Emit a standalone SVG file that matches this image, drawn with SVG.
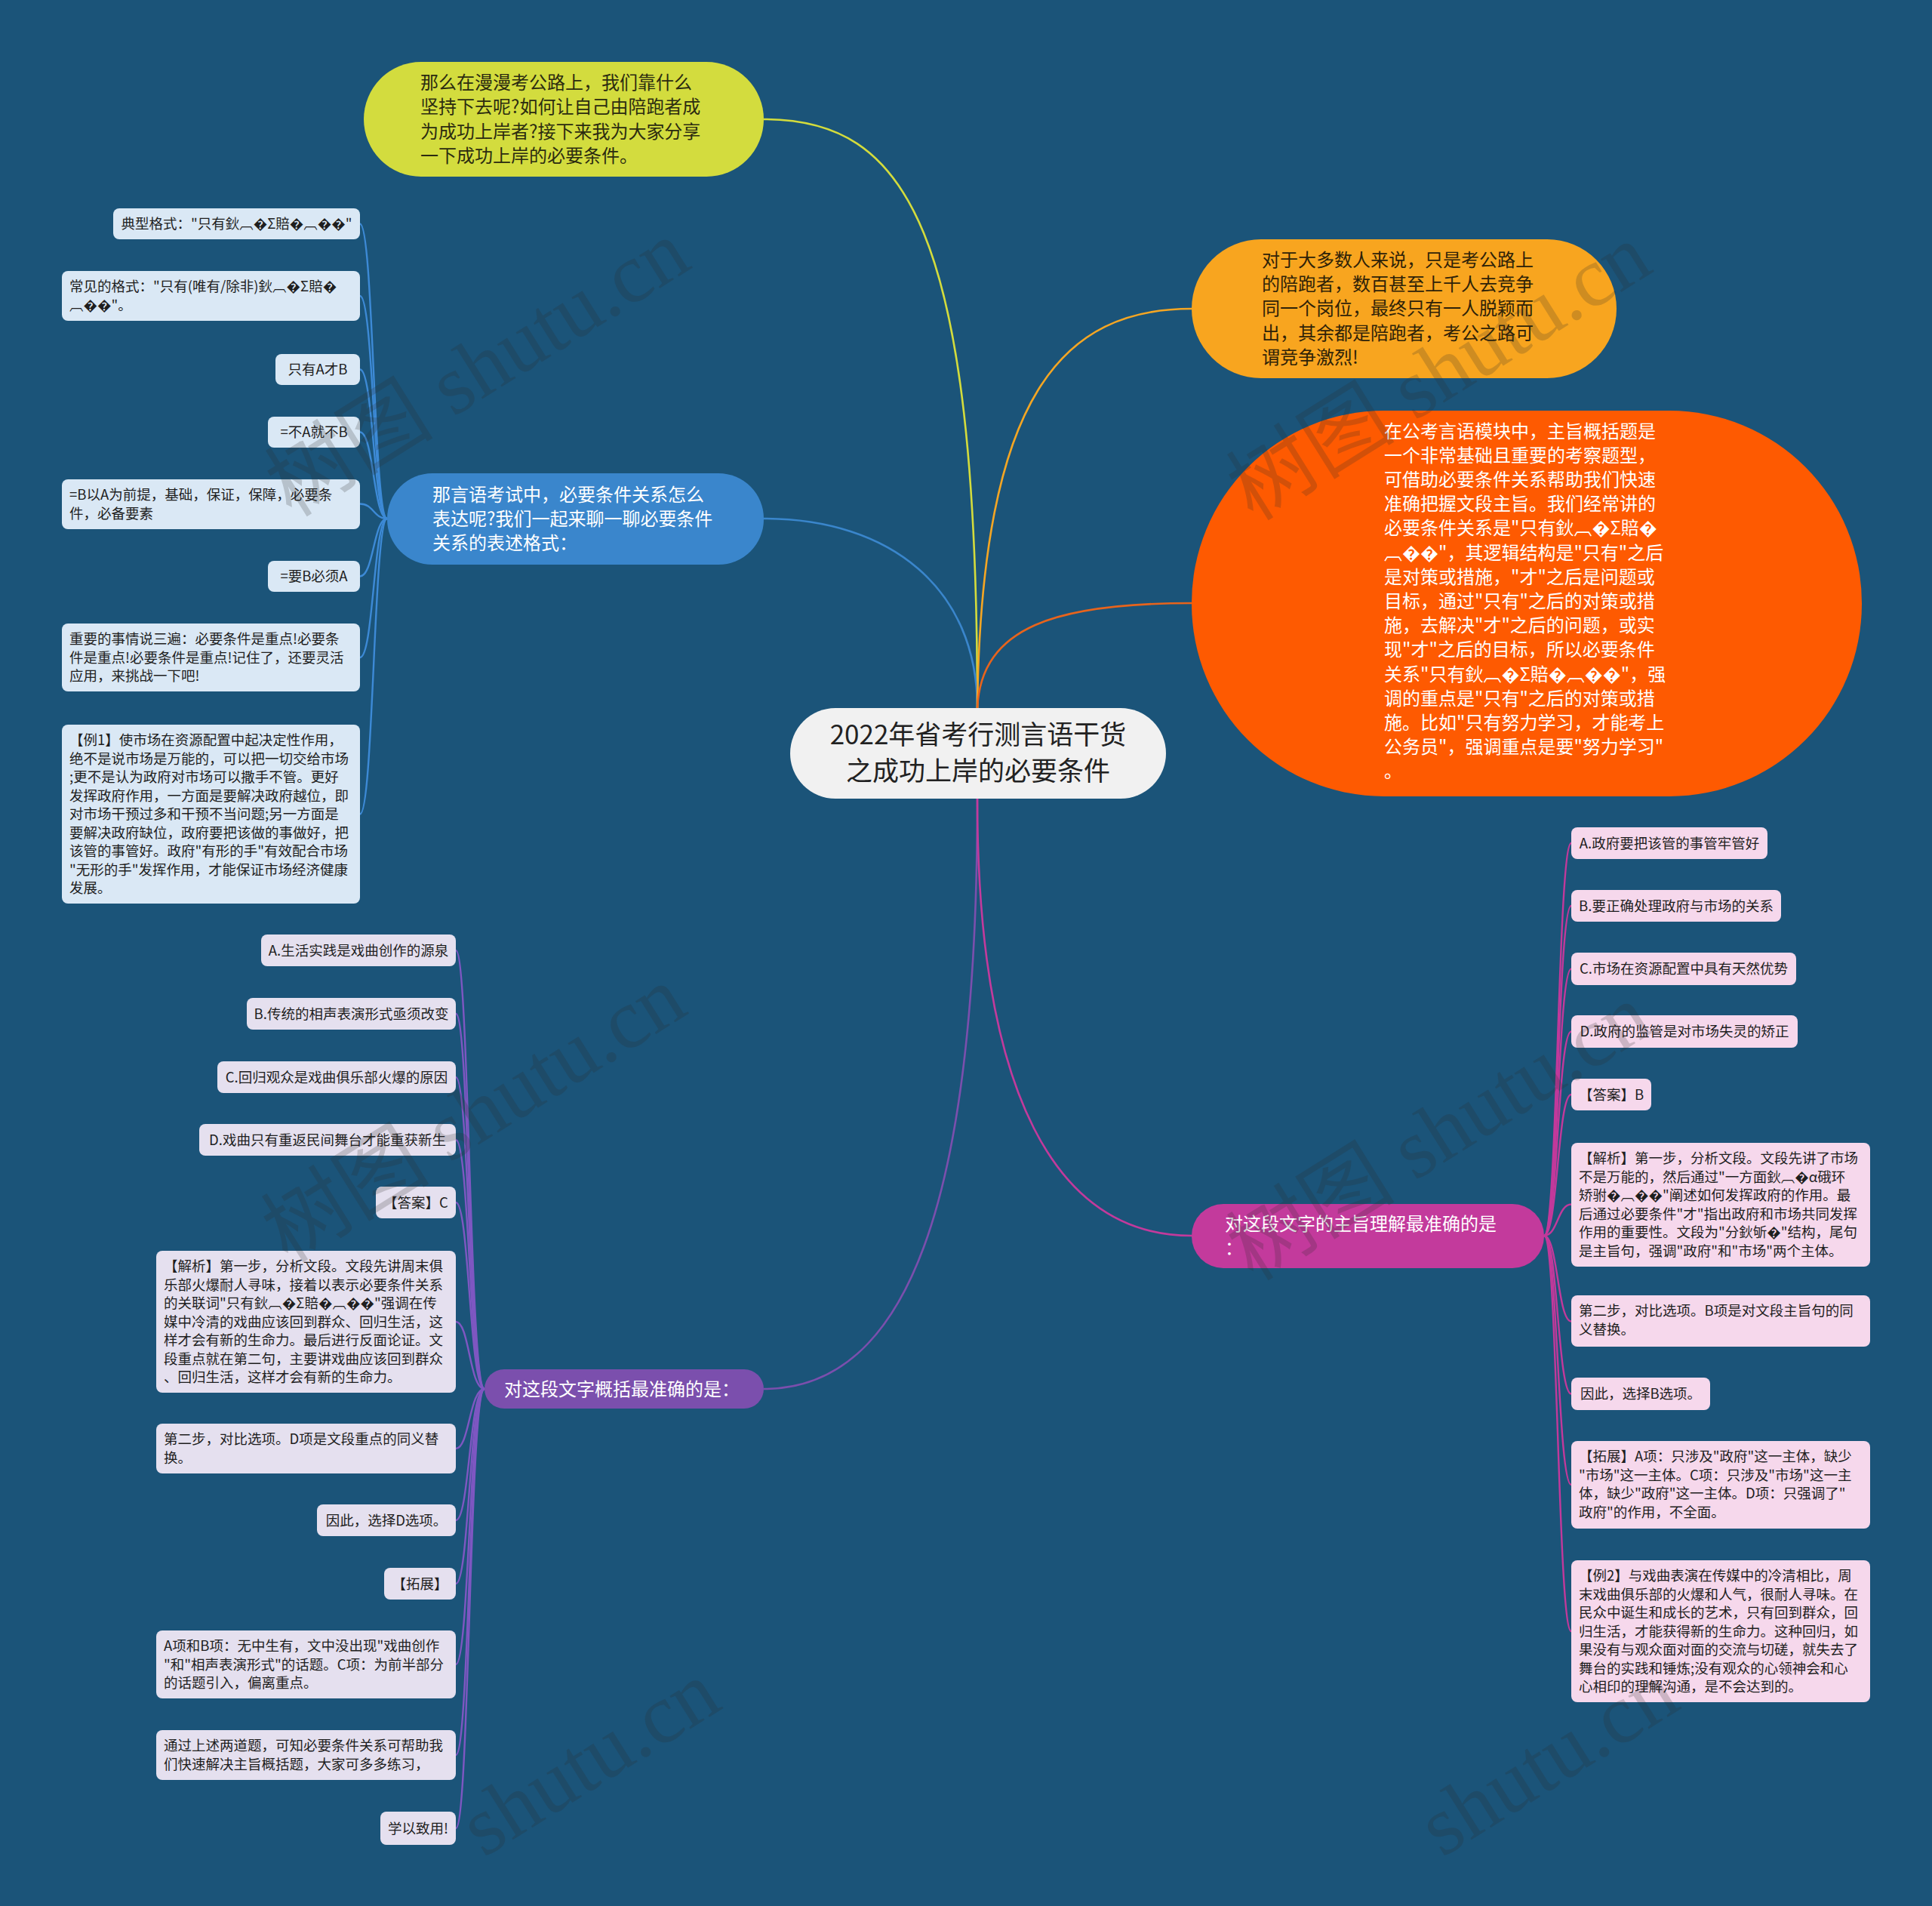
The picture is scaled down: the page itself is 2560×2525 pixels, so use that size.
<svg xmlns="http://www.w3.org/2000/svg" width="2560" height="2525" viewBox="0 0 2560 2525">
<style>
text{font-family:"Noto Sans CJK SC","Noto Sans",sans-serif}
.l1{font-size:24px}
.s{font-size:18.5px;fill:#1e1e1e}
.c{stroke-width:2.6;fill:none}
.sc{stroke-width:2.4;fill:none}
.bb{fill:#dae8f5}
.pb{fill:#e5e0ef}
.mb{fill:#f6d8ec}
.wm{font-size:112px;fill:#2a2a2a;opacity:0.2;font-family:"Liberation Serif","Noto Sans CJK SC",serif}
</style>
<rect x="0" y="0" width="2560" height="2525" fill="#1b5479"/>

<g id="connectors">
<path class="c" stroke="#d4dc3c" d="M1012 158 C1200 158 1295 300 1295 938"/>
<path class="c" stroke="#3a86cc" d="M1012 687 C1180 687 1295 780 1295 938"/>
<path class="c" stroke="#f5a623" d="M1579 409 C1410 409 1300 520 1295 938"/>
<path class="c" stroke="#e8641c" d="M1579 799 C1400 799 1300 830 1295 938"/>
<path class="c" stroke="#7b4fad" d="M1295 1058 C1295 1600 1200 1840 1012 1840"/>
<path class="c" stroke="#c33a9c" d="M1295 1058 C1295 1450 1400 1637 1579 1637"/>
<g stroke="#3d8ad6">
<path class="sc" d="M513 687 C495 687 495 296.5 477 296.5"/>
<path class="sc" d="M513 687 C495 687 495 392 477 392"/>
<path class="sc" d="M513 687 C495 687 495 489.5 477 489.5"/>
<path class="sc" d="M513 687 C495 687 495 572.5 477 572.5"/>
<path class="sc" d="M513 687 C495 687 495 667.5 477 667.5"/>
<path class="sc" d="M513 687 C495 687 495 763.5 477 763.5"/>
<path class="sc" d="M513 687 C495 687 495 871 477 871"/>
<path class="sc" d="M513 687 C495 687 495 1078.5 477 1078.5"/>
</g>
<g stroke="#7e57c2">
<path class="sc" d="M642 1840 C622 1840 622 1259 604 1259"/>
<path class="sc" d="M642 1840 C622 1840 622 1343 604 1343"/>
<path class="sc" d="M642 1840 C622 1840 622 1427 604 1427"/>
<path class="sc" d="M642 1840 C622 1840 622 1510 604 1510"/>
<path class="sc" d="M642 1840 C622 1840 622 1593 604 1593"/>
<path class="sc" d="M642 1840 C622 1840 622 1751 604 1751"/>
<path class="sc" d="M642 1840 C622 1840 622 1919 604 1919"/>
<path class="sc" d="M642 1840 C622 1840 622 2014 604 2014"/>
<path class="sc" d="M642 1840 C622 1840 622 2098 604 2098"/>
<path class="sc" d="M642 1840 C622 1840 622 2205 604 2205"/>
<path class="sc" d="M642 1840 C622 1840 622 2325 604 2325"/>
<path class="sc" d="M642 1840 C622 1840 622 2422 604 2422"/>
</g>
<g stroke="#c2399b">
<path class="sc" d="M2046 1637 C2064 1637 2064 1117 2082 1117"/>
<path class="sc" d="M2046 1637 C2064 1637 2064 1200 2082 1200"/>
<path class="sc" d="M2046 1637 C2064 1637 2064 1283.5 2082 1283.5"/>
<path class="sc" d="M2046 1637 C2064 1637 2064 1366.5 2082 1366.5"/>
<path class="sc" d="M2046 1637 C2064 1637 2064 1450 2082 1450"/>
<path class="sc" d="M2046 1637 C2064 1637 2064 1595.5 2082 1595.5"/>
<path class="sc" d="M2046 1637 C2064 1637 2064 1750.5 2082 1750.5"/>
<path class="sc" d="M2046 1637 C2064 1637 2064 1846.5 2082 1846.5"/>
<path class="sc" d="M2046 1637 C2064 1637 2064 1967 2082 1967"/>
<path class="sc" d="M2046 1637 C2064 1637 2064 2161 2082 2161"/>
</g>
</g>

<g id="center">
<rect x="1047" y="938" width="498" height="120" rx="60" fill="#f1f1f1"/>
<text font-size="35" fill="#222" text-anchor="middle"><tspan x="1296" y="986">2022年省考行测言语干货</tspan><tspan x="1296" y="1034">之成功上岸的必要条件</tspan></text>
</g>

<g id="n-yellow">
<rect x="482" y="82" width="530" height="152" rx="76" fill="#d3dc3e"/>
<text class="l1" fill="#2b2b10"><tspan x="557" y="117.5">那么在漫漫考公路上，我们靠什么</tspan><tspan x="557" y="150">坚持下去呢?如何让自己由陪跑者成</tspan><tspan x="557" y="182.5">为成功上岸者?接下来我为大家分享</tspan><tspan x="557" y="215">一下成功上岸的必要条件。</tspan></text>
</g>

<g id="n-blue">
<rect x="513" y="627" width="499" height="121" rx="60" fill="#3a86cc"/>
<text class="l1" fill="#fff"><tspan x="573" y="663.5">那言语考试中，必要条件关系怎么</tspan><tspan x="573" y="695.5">表达呢?我们一起来聊一聊必要条件</tspan><tspan x="573" y="727.5">关系的表述格式：</tspan></text>
</g>

<g id="n-orange">
<rect x="1579" y="317" width="563" height="184" rx="92" fill="#f8a51f"/>
<text class="l1" fill="#2e2208"><tspan x="1672" y="352.5">对于大多数人来说，只是考公路上</tspan><tspan x="1672" y="385">的陪跑者，数百甚至上千人去竞争</tspan><tspan x="1672" y="417">同一个岗位，最终只有一人脱颖而</tspan><tspan x="1672" y="449.5">出，其余都是陪跑者，考公之路可</tspan><tspan x="1672" y="481.5">谓竞争激烈!</tspan></text>
</g>

<g id="n-red">
<rect x="1579" y="544" width="888" height="511" rx="255" fill="#fe5a01"/>
<text class="l1" fill="#fff"><tspan x="1834" y="579.5">在公考言语模块中，主旨概括题是</tspan><tspan x="1834" y="611.7">一个非常基础且重要的考察题型，</tspan><tspan x="1834" y="643.9">可借助必要条件关系帮助我们快速</tspan><tspan x="1834" y="676.1">准确把握文段主旨。我们经常讲的</tspan><tspan x="1834" y="708.3">必要条件关系是"只有鈥︹�Σ賠�</tspan><tspan x="1834" y="740.5">︹��"，其逻辑结构是"只有"之后</tspan><tspan x="1834" y="772.7">是对策或措施，"才"之后是问题或</tspan><tspan x="1834" y="804.9">目标，通过"只有"之后的对策或措</tspan><tspan x="1834" y="837.1">施，去解决"才"之后的问题，或实</tspan><tspan x="1834" y="869.3">现"才"之后的目标，所以必要条件</tspan><tspan x="1834" y="901.5">关系"只有鈥︹�Σ賠�︹��"，强</tspan><tspan x="1834" y="933.7">调的重点是"只有"之后的对策或措</tspan><tspan x="1834" y="965.9">施。比如"只有努力学习，才能考上</tspan><tspan x="1834" y="998.1">公务员"，强调重点是要"努力学习"</tspan><tspan x="1834" y="1030.3">。</tspan></text>
</g>

<g id="n-purple">
<rect x="642" y="1814" width="370" height="52" rx="26" fill="#7b4fad"/>
<text x="668" y="1848.5" class="l1" fill="#fff">对这段文字概括最准确的是：</text>
</g>

<g id="n-magenta">
<rect x="1579" y="1595" width="467" height="85" rx="42" fill="#c33a9c"/>
<text class="l1" fill="#fff"><tspan x="1623" y="1629.5">对这段文字的主旨理解最准确的是</tspan><tspan x="1623" y="1662">：</tspan></text>
</g>

<!-- blue children -->
<g id="b1"><rect class="bb" x="150" y="276" width="327" height="41" rx="8"/><text class="s" x="313.5" y="303" text-anchor="middle">典型格式："只有鈥︹�Σ賠�︹��"</text></g>
<g id="b2"><rect class="bb" x="82" y="359" width="395" height="66" rx="8"/><text class="s"><tspan x="92" y="386.3">常见的格式："只有(唯有/除非)鈥︹�Σ賠�</tspan><tspan x="92" y="410.8">︹��"。</tspan></text></g>
<g id="b3"><rect class="bb" x="365" y="469" width="112" height="41" rx="8"/><text class="s" x="421" y="496" text-anchor="middle">只有A才B</text></g>
<g id="b4"><rect class="bb" x="355" y="552" width="122" height="41" rx="8"/><text class="s" x="416" y="579" text-anchor="middle">=不A就不B</text></g>
<g id="b5"><rect class="bb" x="82" y="635" width="395" height="66" rx="8"/><text class="s"><tspan x="92" y="662.3">=B以A为前提，基础，保证，保障，必要条</tspan><tspan x="92" y="686.8">件，必备要素</tspan></text></g>
<g id="b6"><rect class="bb" x="355" y="743" width="122" height="41" rx="8"/><text class="s" x="416" y="770" text-anchor="middle">=要B必须A</text></g>
<g id="b7"><rect class="bb" x="82" y="826" width="395" height="90" rx="8"/><text class="s"><tspan x="92" y="853.3">重要的事情说三遍：必要条件是重点!必要条</tspan><tspan x="92" y="877.8">件是重点!必要条件是重点!记住了，还要灵活</tspan><tspan x="92" y="902.3">应用，来挑战一下吧!</tspan></text></g>
<g id="b8"><rect class="bb" x="82" y="960" width="395" height="237" rx="8"/><text class="s"><tspan x="92" y="987.3">【例1】使市场在资源配置中起决定性作用，</tspan><tspan x="92" y="1011.8">绝不是说市场是万能的，可以把一切交给市场</tspan><tspan x="92" y="1036.3">;更不是认为政府对市场可以撒手不管。更好</tspan><tspan x="92" y="1060.8">发挥政府作用，一方面是要解决政府越位，即</tspan><tspan x="92" y="1085.3">对市场干预过多和干预不当问题;另一方面是</tspan><tspan x="92" y="1109.8">要解决政府缺位，政府要把该做的事做好，把</tspan><tspan x="92" y="1134.3">该管的事管好。政府"有形的手"有效配合市场</tspan><tspan x="92" y="1158.8">"无形的手"发挥作用，才能保证市场经济健康</tspan><tspan x="92" y="1183.3">发展。</tspan></text></g>

<!-- purple children -->
<g id="p1"><rect class="pb" x="346" y="1238" width="258" height="42" rx="8"/><text class="s" x="475" y="1265.5" text-anchor="middle">A.生活实践是戏曲创作的源泉</text></g>
<g id="p2"><rect class="pb" x="327" y="1322" width="277" height="42" rx="8"/><text class="s" x="465.5" y="1349.5" text-anchor="middle">B.传统的相声表演形式亟须改变</text></g>
<g id="p3"><rect class="pb" x="288" y="1406" width="316" height="42" rx="8"/><text class="s" x="446" y="1433.5" text-anchor="middle">C.回归观众是戏曲俱乐部火爆的原因</text></g>
<g id="p4"><rect class="pb" x="264" y="1489" width="340" height="42" rx="8"/><text class="s" x="434" y="1516.5" text-anchor="middle">D.戏曲只有重返民间舞台才能重获新生</text></g>
<g id="p5"><rect class="pb" x="498" y="1572" width="106" height="42" rx="8"/><text class="s" x="551" y="1599.5" text-anchor="middle">【答案】C</text></g>
<g id="p6"><rect class="pb" x="207" y="1657" width="397" height="188" rx="8"/><text class="s"><tspan x="217" y="1684.3">【解析】第一步，分析文段。文段先讲周末俱</tspan><tspan x="217" y="1708.8">乐部火爆耐人寻味，接着以表示必要条件关系</tspan><tspan x="217" y="1733.3">的关联词"只有鈥︹�Σ賠�︹��"强调在传</tspan><tspan x="217" y="1757.8">媒中冷清的戏曲应该回到群众、回归生活，这</tspan><tspan x="217" y="1782.3">样才会有新的生命力。最后进行反面论证。文</tspan><tspan x="217" y="1806.8">段重点就在第二句，主要讲戏曲应该回到群众</tspan><tspan x="217" y="1831.3">、回归生活，这样才会有新的生命力。</tspan></text></g>
<g id="p7"><rect class="pb" x="207" y="1886" width="397" height="66" rx="8"/><text class="s"><tspan x="217" y="1913.3">第二步，对比选项。D项是文段重点的同义替</tspan><tspan x="217" y="1937.8">换。</tspan></text></g>
<g id="p8"><rect class="pb" x="420" y="1993" width="184" height="42" rx="8"/><text class="s" x="512" y="2020.5" text-anchor="middle">因此，选择D选项。</text></g>
<g id="p9"><rect class="pb" x="509" y="2077" width="95" height="42" rx="8"/><text class="s" x="556.5" y="2104.5" text-anchor="middle">【拓展】</text></g>
<g id="p10"><rect class="pb" x="207" y="2160" width="397" height="90" rx="8"/><text class="s"><tspan x="217" y="2187.3">A项和B项：无中生有，文中没出现"戏曲创作</tspan><tspan x="217" y="2211.8">"和"相声表演形式"的话题。C项：为前半部分</tspan><tspan x="217" y="2236.3">的话题引入，偏离重点。</tspan></text></g>
<g id="p11"><rect class="pb" x="207" y="2292" width="397" height="66" rx="8"/><text class="s"><tspan x="217" y="2319.3">通过上述两道题，可知必要条件关系可帮助我</tspan><tspan x="217" y="2343.8">们快速解决主旨概括题，大家可多多练习，</tspan></text></g>
<g id="p12"><rect class="pb" x="504" y="2400" width="100" height="44" rx="8"/><text class="s" x="554" y="2428.5" text-anchor="middle">学以致用!</text></g>

<!-- magenta children -->
<g id="m1"><rect class="mb" x="2082" y="1096" width="260" height="42" rx="8"/><text class="s" x="2212" y="1123.5" text-anchor="middle">A.政府要把该管的事管牢管好</text></g>
<g id="m2"><rect class="mb" x="2082" y="1179" width="278" height="42" rx="8"/><text class="s" x="2221" y="1206.5" text-anchor="middle">B.要正确处理政府与市场的关系</text></g>
<g id="m3"><rect class="mb" x="2082" y="1262" width="298" height="43" rx="8"/><text class="s" x="2231" y="1290" text-anchor="middle">C.市场在资源配置中具有天然优势</text></g>
<g id="m4"><rect class="mb" x="2082" y="1345" width="300" height="43" rx="8"/><text class="s" x="2232" y="1373" text-anchor="middle">D.政府的监管是对市场失灵的矫正</text></g>
<g id="m5"><rect class="mb" x="2082" y="1429" width="106" height="42" rx="8"/><text class="s" x="2135" y="1456.5" text-anchor="middle">【答案】B</text></g>
<g id="m6"><rect class="mb" x="2082" y="1514" width="396" height="164" rx="8"/><text class="s"><tspan x="2092" y="1541.3">【解析】第一步，分析文段。文段先讲了市场</tspan><tspan x="2092" y="1565.8">不是万能的，然后通过"一方面鈥︹�α硪环</tspan><tspan x="2092" y="1590.3">矫驸�︹��"阐述如何发挥政府的作用。最</tspan><tspan x="2092" y="1614.8">后通过必要条件"才"指出政府和市场共同发挥</tspan><tspan x="2092" y="1639.3">作用的重要性。文段为"分鈥斪�"结构，尾句</tspan><tspan x="2092" y="1663.8">是主旨句，强调"政府"和"市场"两个主体。</tspan></text></g>
<g id="m7"><rect class="mb" x="2082" y="1716" width="396" height="68" rx="8"/><text class="s"><tspan x="2092" y="1743.3">第二步，对比选项。B项是对文段主旨句的同</tspan><tspan x="2092" y="1767.8">义替换。</tspan></text></g>
<g id="m8"><rect class="mb" x="2082" y="1825" width="184" height="43" rx="8"/><text class="s" x="2174" y="1853" text-anchor="middle">因此，选择B选项。</text></g>
<g id="m9"><rect class="mb" x="2082" y="1909" width="396" height="116" rx="8"/><text class="s"><tspan x="2092" y="1936.3">【拓展】A项：只涉及"政府"这一主体，缺少</tspan><tspan x="2092" y="1960.8">"市场"这一主体。C项：只涉及"市场"这一主</tspan><tspan x="2092" y="1985.3">体，缺少"政府"这一主体。D项：只强调了"</tspan><tspan x="2092" y="2009.8">政府"的作用，不全面。</tspan></text></g>
<g id="m10"><rect class="mb" x="2082" y="2067" width="396" height="188" rx="8"/><text class="s"><tspan x="2092" y="2094.3">【例2】与戏曲表演在传媒中的冷清相比，周</tspan><tspan x="2092" y="2118.8">末戏曲俱乐部的火爆和人气，很耐人寻味。在</tspan><tspan x="2092" y="2143.3">民众中诞生和成长的艺术，只有回到群众，回</tspan><tspan x="2092" y="2167.8">归生活，才能获得新的生命力。这种回归，如</tspan><tspan x="2092" y="2192.3">果没有与观众面对面的交流与切磋，就失去了</tspan><tspan x="2092" y="2216.8">舞台的实践和锤炼;没有观众的心领神会和心</tspan><tspan x="2092" y="2241.3">心相印的理解沟通，是不会达到的。</tspan></text></g>

<g id="watermarks">
<text class="wm" transform="translate(653,520) rotate(-32)" text-anchor="middle">树图 shutu.cn</text>
<text class="wm" transform="translate(648,1508) rotate(-32)" text-anchor="middle">树图 shutu.cn</text>
<text class="wm" transform="translate(1927,525) rotate(-32)" text-anchor="middle">树图 shutu.cn</text>
<text class="wm" transform="translate(1927,1532) rotate(-32)" text-anchor="middle">树图 shutu.cn</text>
<text class="wm" transform="translate(960,2262) rotate(-32)" text-anchor="end">shutu.cn</text>
<text class="wm" transform="translate(2230,2262) rotate(-32)" text-anchor="end">shutu.cn</text>
</g>
</svg>
